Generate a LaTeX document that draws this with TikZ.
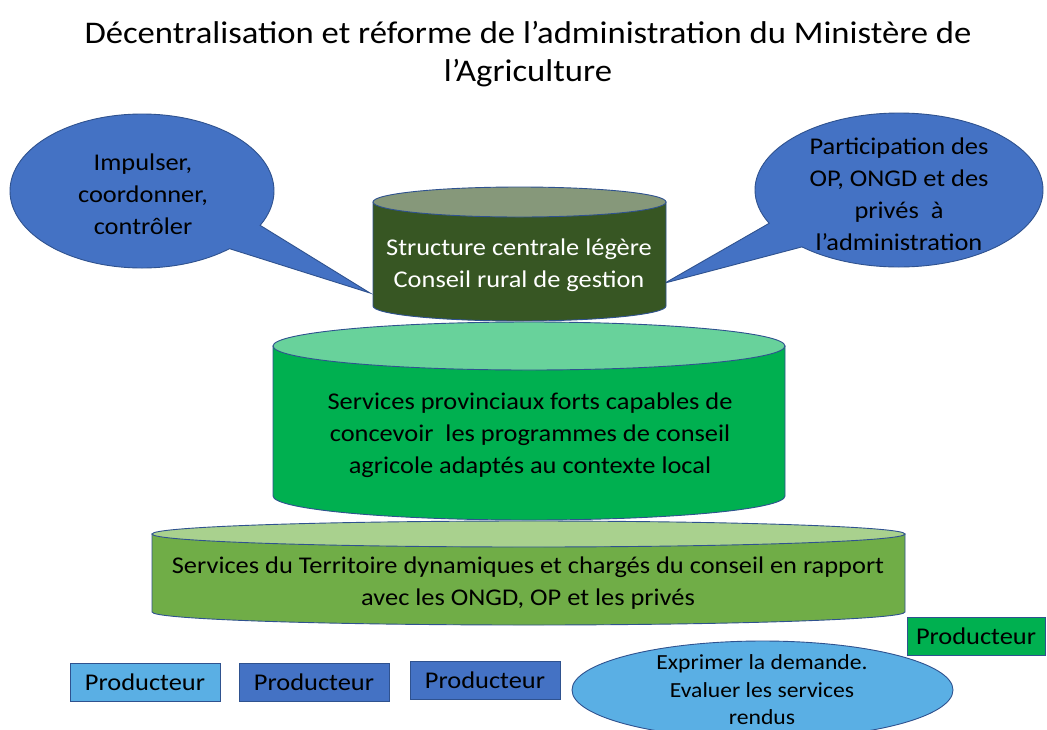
\documentclass[tikz,border=0pt]{standalone}
\usepackage{fontspec}
\setmainfont{Carlito}[FakeStretch=1.1]
\usetikzlibrary{shapes.geometric,shapes.callouts}
\definecolor{edgeblue}{HTML}{2F528F}
\definecolor{callblue}{HTML}{4472C4}
\definecolor{lightblue}{HTML}{5AAFE4}
\definecolor{darkgreen}{HTML}{375623}
\definecolor{darkgreentop}{HTML}{86987A}
\definecolor{midgreen}{HTML}{00B050}
\definecolor{midgreentop}{HTML}{68D29B}
\definecolor{lowgreen}{HTML}{70AD47}
\definecolor{lowgreentop}{HTML}{A9D18E}
\tikzset{
  outline/.style={draw=edgeblue, line width=0.9pt},
  bodytext/.style={font=\fontsize{24}{32}\selectfont, align=center, text=black, inner sep=0pt},
  callout/.style={ellipse callout, outline, fill=callblue, callout pointer arc=22, minimum width=264pt, minimum height=154pt, inner sep=0pt},
  prodbox/.style={outline, rectangle, minimum width=150pt, minimum height=38pt, inner sep=0pt, font=\fontsize{24}{28}\selectfont, text=black},
}
\begin{document}
\begin{tikzpicture}[x=1pt,y=-1pt]
\useasboundingbox[fill=white] (0,0) rectangle (1047,729);

% title
\node[font=\fontsize{31.5}{38}\selectfont, align=center, inner sep=0pt] (title) at (528,54)
  {Décentralisation et réforme de l’administration du Ministère de\\l’Agriculture};

% callouts
\node[callout, callout absolute pointer={(370,293)}] (cl) at (142,191) {};
\node[bodytext] (cltext) at (143,194) {Impulser,\\coordonner,\\contrôler};
\node[callout, minimum width=288pt, callout absolute pointer={(665,283)}] (cr) at (899,190) {};
\node[bodytext] (crtext) at (899,194) {Participation des\\OP, ONGD et des\\privés~ à\\l’administration};

% bottom cylinder
\path[outline, fill=lowgreen] (152,534) -- (152,612) arc[start angle=180, end angle=0, x radius=376.5, y radius=13] -- (905,534) -- cycle;
\path[outline, fill=lowgreentop] (528.5,534) ellipse[x radius=376.5, y radius=13];
\node[bodytext] (low) at (528,583) {Services du Territoire dynamiques et chargés du conseil en rapport\\avec les ONGD, OP et les privés};

% middle cylinder
\path[outline, fill=midgreen] (273,346) -- (273,496) arc[start angle=180, end angle=0, x radius=256, y radius=24] -- (785,346) -- cycle;
\path[outline, fill=midgreentop] (529,346) ellipse[x radius=256, y radius=24];
\node[bodytext] (mid) at (530,435) {Services provinciaux forts capables de\\concevoir~ les programmes de conseil\\agricole adaptés au contexte local};

% top cylinder
\path[outline, fill=darkgreen] (373,202) -- (373,306) arc[start angle=180, end angle=0, x radius=146.5, y radius=15] -- (666,202) -- cycle;
\path[outline, fill=darkgreentop] (519.5,202) ellipse[x radius=146.5, y radius=15];
\node[bodytext, text=white] (top) at (519,265) {Structure centrale légère\\Conseil rural de gestion};

% producers
\node[prodbox, fill=lightblue] (p1) at (145,682) {Producteur};
\node[prodbox, fill=callblue] (p2) at (314,682) {Producteur};
\node[prodbox, fill=callblue] (p3) at (485,680) {Producteur};
\node[prodbox, fill=midgreen, minimum width=138pt] (p4) at (976,636) {Producteur};

% ellipse
\node[ellipse, outline, fill=lightblue, minimum width=381pt, minimum height=98pt, inner sep=0pt] (dem) at (762.5,690) {};
\node[bodytext, font=\fontsize{21.5}{27.5}\selectfont] (demtext) at (762,690) {Exprimer la demande.\\Evaluer les services\\rendus};
\end{tikzpicture}
\end{document}
